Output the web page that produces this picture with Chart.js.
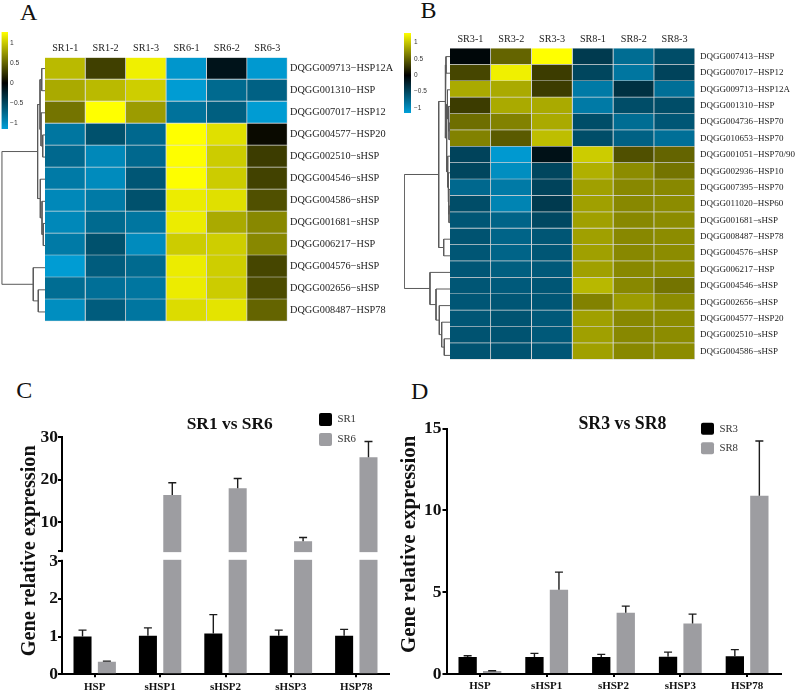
<!DOCTYPE html>
<html>
<head>
<meta charset="utf-8">
<style>
html,body{margin:0;padding:0;background:#fff;width:796px;height:692px;overflow:hidden}
canvas{position:absolute;display:block}
.tag{position:absolute;font:24px/1 "Liberation Serif",serif;color:#111}
</style>
<script src="https://cdn.jsdelivr.net/npm/chart.js@4/dist/chart.umd.js"></script>
</head>
<body>
<div class="tag" style="left:20px;top:0">A</div>
<div class="tag" style="left:420.6px;top:-2px">B</div>
<div class="tag" style="left:16.3px;top:378px">C</div>
<div class="tag" style="left:411px;top:379px">D</div>
<script>
// ---------- Heatmap A ----------
const samplesA = ['SR1-1','SR1-2','SR1-3','SR6-1','SR6-2','SR6-3'];
const genesA = ['DQGG009713−HSP12A','DQGG001310−HSP','DQGG007017−HSP12','DQGG004577−HSP20','DQGG002510−sHSP','DQGG004546−sHSP','DQGG004586−sHSP','DQGG001681−sHSP','DQGG006217−HSP','DQGG004576−sHSP','DQGG002656−sHSP','DQGG008487−HSP78'];
const valuesA = [
 [0.93,0.32,1.20,-1.08,-0.14,-1.10],
 [0.85,0.93,1.03,-1.12,-0.76,-0.70],
 [0.58,1.275,0.78,-0.82,-0.68,-1.12],
 [-0.85,-0.58,-0.75,1.275,1.12,0.05],
 [-0.75,-0.98,-0.75,1.27,1.02,0.30],
 [-0.88,-1.00,-0.62,1.27,1.02,0.33],
 [-0.98,-0.88,-0.58,1.18,1.12,0.40],
 [-0.98,-0.76,-0.85,1.18,0.85,0.68],
 [-0.88,-0.58,-1.00,1.02,1.03,0.68],
 [-1.12,-0.66,-0.76,1.18,1.03,0.35],
 [-0.78,-0.80,-0.85,1.18,1.02,0.38],
 [-1.02,-0.66,-0.85,1.10,1.14,0.50]
];
// cluster tree: [height, childA, childB], numbers are rows
const treeA = [1,
  [0.17,
    [0.115,[0.076,0,1],[0.092,2,[0.053,3,4]]],
    [0.108,5,[0.069,6,[0.039,7,8]]]],
  [0.271,9,[0.155,10,11]]];
// ---------- Heatmap B ----------
const samplesB = ['SR3-1','SR3-2','SR3-3','SR8-1','SR8-2','SR8-3'];
const genesB = ['DQGG007413−HSP','DQGG007017−HSP12','DQGG009713−HSP12A','DQGG001310−HSP','DQGG004736−HSP70','DQGG010653−HSP70','DQGG001051−HSP70/90','DQGG002936−HSP10','DQGG007395−HSP70','DQGG011020−HSP60','DQGG001681−sHSP','DQGG008487−HSP78','DQGG004576−sHSP','DQGG006217−HSP','DQGG004546−sHSP','DQGG002656−sHSP','DQGG004577−HSP20','DQGG002510−sHSP','DQGG004586−sHSP'];
const valuesB = [
 [-0.05,0.50,1.28,-0.42,-0.78,-0.55],
 [0.35,1.20,0.30,-0.50,-0.85,-0.48],
 [0.85,0.85,0.30,-0.88,-0.35,-0.80],
 [0.30,0.85,0.85,-0.88,-0.55,-0.55],
 [0.55,0.65,0.85,-0.55,-0.78,-0.62],
 [0.65,0.45,0.95,-0.55,-0.70,-0.80],
 [-0.48,-1.10,-0.12,1.02,0.40,0.50],
 [-0.50,-1.02,-0.50,0.88,0.70,0.58],
 [-0.75,-0.88,-0.48,0.80,0.68,0.68],
 [-0.55,-0.95,-0.42,0.80,0.68,0.70],
 [-0.62,-0.72,-0.52,0.80,0.68,0.70],
 [-0.60,-0.72,-0.62,0.80,0.68,0.70],
 [-0.62,-0.72,-0.62,0.80,0.68,0.70],
 [-0.62,-0.68,-0.64,0.80,0.68,0.70],
 [-0.62,-0.65,-0.62,0.92,0.68,0.58],
 [-0.62,-0.62,-0.62,0.65,0.78,0.70],
 [-0.62,-0.60,-0.64,0.80,0.68,0.70],
 [-0.60,-0.60,-0.64,0.80,0.68,0.70],
 [-0.60,-0.60,-0.62,0.80,0.68,0.70]
];
const treeB = [1,
  [0.247,
    [0.101,[0.088,0,1],
      [0.073,[0.055,2,[0.033,3,[0.022,4,5]]],
              [0.05,6,[0.04,7,[0.029,8,[0.022,9,10]]]]]],
    [0.138,11,12]],
  [0.438,13,[0.306,14,[0.234,15,[0.182,16,[0.125,17,18]]]]]];
const colorTicks = [-1,-0.5,0,0.5,1];
const colorRangeA = [-1.15,1.275];
const colorRangeB = [-1.15,1.29];
// ---------- Bars C ----------
const genesC = ['HSP','sHSP1','sHSP2','sHSP3','HSP78'];
const sr1 = [1.0,1.02,1.08,1.02,1.02];
const sr1Err = [1.17,1.23,1.58,1.17,1.19];
const sr6 = [0.33,16.4,18,5.5,25.3];
const sr6Err = [0.35,19.3,20.3,6.4,29];
const ticksC = [0,1,2,3,3.25,10,20,30];
// ---------- Bars D ----------
const genesD = ['HSP','sHSP1','sHSP2','sHSP3','HSP78'];
const sr3 = [1.04,1.04,1.04,1.06,1.08];
const sr3Err = [1.12,1.26,1.2,1.34,1.49];
const sr8 = [0.18,5.15,3.75,3.09,10.9];
const sr8Err = [0.2,6.23,4.15,3.66,14.25];
const ticksD = [0,5,10,15];

const SERIF = '"Liberation Serif", serif';
const SANS = '"Liberation Sans", sans-serif';
const GREY = '#9d9da1';

function heatColor(z){
  if(z>=0){const t=Math.min(1,z/1.275);return `rgb(${Math.round(255*t)},${Math.round(255*t)},0)`;}
  const t=Math.min(1,-z/1.15);return `rgb(0,${Math.round(160*t)},${Math.round(217*t)})`;
}

class PanelScale extends Chart.LinearScale{
  static id='panelLinear';
  static defaults=Chart.LinearScale.defaults;
  getPixelForValue(v){
    const b=this.options.brk;
    if(!b||v===null||v===undefined) return super.getPixelForValue(v);
    let d;
    if(v<=b.lo) d=v/b.lo*b.f1;
    else if(v<=b.hi) d=b.f1+(v-b.lo)/(b.hi-b.lo)*(b.f2-b.f1);
    else d=b.f2+(v-b.hi)/(this.max-b.hi)*(1-b.f2);
    return this.getPixelForDecimal(d);
  }
  drawTitle(){
    const c=this.ctx;c.save();c.translate(0,this.options.titleShift||0);super.drawTitle();c.restore();
  }
}
Chart.register(PanelScale);

function mk(left,top,w,h,cfg){
  const cv=document.createElement('canvas');
  cv.width=w;cv.height=h;
  cv.style.left=left+'px';cv.style.top=top+'px';cv.style.width=w+'px';cv.style.height=h+'px';
  document.body.appendChild(cv);
  cfg.options=Object.assign({responsive:false,animation:false,devicePixelRatio:1},cfg.options);
  return new Chart(cv,cfg);
}

function heatmap(left,top,w,h,samples,genes,values,pad,axisTop,axisRight,rowPad,rowFont){
  mk(left,top,w,h,{
    type:'bar',
    data:{labels:genes,datasets:samples.map((s,c)=>({
      label:s,
      data:genes.map(()=>1),
      backgroundColor:genes.map((_,r)=>heatColor(values[r][c])),
      borderColor:'#cfd2d4',
      borderWidth:{right:1,bottom:1,left:0,top:0},
      borderSkipped:false,
      barPercentage:1,categoryPercentage:1
    }))},
    options:{
      indexAxis:'y',
      layout:{padding:pad},
      plugins:{legend:{display:false},tooltip:{enabled:false}},
      scales:{
        x:{type:'linear',stacked:true,min:0,max:samples.length,position:'top',
           afterFit:s=>{s.height=axisTop;},
           afterBuildTicks:s=>{s.ticks=samples.map((_,i)=>({value:i+0.5}));},
           grid:{display:false,tickLength:0},border:{display:false},
           ticks:{autoSkip:false,maxRotation:0,padding:3,color:'#222',font:{family:SERIF,size:10.2},
                  callback:v=>samples[Math.floor(v)]}},
        y:{type:'category',stacked:true,position:'right',
           afterFit:s=>{s.width=axisRight;},
           grid:{display:false,tickLength:0},border:{display:false},
           ticks:{autoSkip:false,padding:rowPad,color:'#222',font:{family:SERIF,size:rowFont}}}
      }
    }
  });
}

function treeSegments(tree){
  const segs=[];
  const walk=n=>{
    if(typeof n==='number') return {h:0,y:n};
    const a=walk(n[1]),b=walk(n[2]);
    segs.push([{x:a.h,y:a.y},{x:n[0],y:a.y},{x:n[0],y:b.y},{x:b.h,y:b.y}]);
    return {h:n[0],y:(a.y+b.y)/2};
  };
  walk(tree);
  return segs;
}
function dendro(left,top,w,h,tree,n,pad){
  mk(left,top,w,h,{
    type:'scatter',
    data:{datasets:treeSegments(tree).map(d=>({data:d,showLine:true,pointRadius:0,borderColor:'#5a5a5a',borderWidth:1,fill:false,tension:0}))},
    options:{
      layout:{padding:pad},
      plugins:{legend:{display:false},tooltip:{enabled:false}},
      scales:{x:{display:false,type:'linear',min:0,max:1,reverse:true},
              y:{display:false,type:'linear',min:-0.5,max:n-0.5,reverse:true}}
    }
  });
}

function colorbar(left,top,w,h,range,pad,axisW,labelPad,size){
  mk(left,top,w,h,{
    type:'bar',
    data:{labels:['z'],datasets:[{
      data:[range],
      barPercentage:1,categoryPercentage:1,borderSkipped:false,
      backgroundColor:ctx=>{
        const a=ctx.chart.chartArea;if(!a) return '#000';
        const g=ctx.chart.ctx.createLinearGradient(0,a.bottom,0,a.top);
        const f=v=>(v-range[0])/(range[1]-range[0]);
        g.addColorStop(0,heatColor(range[0]));
        g.addColorStop(f(0),heatColor(0));
        g.addColorStop(1,heatColor(range[1]));
        return g;
      }
    }]},
    options:{
      layout:{padding:pad},
      plugins:{legend:{display:false},tooltip:{enabled:false}},
      scales:{
        x:{display:false},
        y:{type:'linear',position:'right',min:range[0],max:range[1],
           afterFit:s=>{s.width=axisW;},
           afterBuildTicks:s=>{s.ticks=colorTicks.map(v=>({value:v}));},
           grid:{display:false,tickLength:0},border:{display:false},
           ticks:{autoSkip:false,padding:labelPad,color:'#333',font:{family:SANS,size:size},
                  callback:v=>String(v).replace('-','−')}}
      }
    }
  });
}

const errPlugin={
  id:'errPlugin',
  afterDatasetsDraw(chart){
    const c=chart.ctx,y=chart.scales.y;
    chart.data.datasets.forEach((ds,di)=>{
      chart.getDatasetMeta(di).data.forEach((el,i)=>{
        const top=y.getPixelForValue(ds.errTop[i]);
        c.save();c.strokeStyle='#1c1c1c';c.lineWidth=1.4;c.beginPath();
        c.moveTo(el.x,el.y);c.lineTo(el.x,top);
        c.moveTo(el.x-4,top);c.lineTo(el.x+4,top);c.stroke();c.restore();
      });
    });
  },
  afterDraw(chart){
    const y=chart.scales.y,b=y.options.brk;
    if(!b) return;
    const c=chart.ctx,t=y.getPixelForValue(b.hi)+1.2,bt=y.getPixelForValue(b.lo)-1.2;
    c.save();c.fillStyle='#fff';c.fillRect(y.right-3,t,chart.width-y.right+3,bt-t);c.restore();
  }
};
const placePlugin={
  id:'placePlugin',
  afterLayout(chart,_a,o){
    const l=chart.legend,t=chart.titleBlock,p=chart.options.plugins.legend.labels.padding;
    l.left=o.legendX-p;l.right=o.legendX+60;l.top=o.legendY-p;l.bottom=o.legendY+50;
    t.left=o.titleX-150;t.right=o.titleX+150;t.top=o.titleY-t.height/2;t.bottom=t.top+t.height;
  }
};

function barsPanel(left,top,w,h,o){
  mk(left,top,w,h,{
    type:'bar',
    plugins:[errPlugin,placePlugin],
    data:{labels:o.labels,datasets:o.series.map((s,i)=>({
      label:s.name,data:s.values,errTop:s.err,
      backgroundColor:i?GREY:'#000',borderWidth:0,
      categoryPercentage:o.cp,barPercentage:o.bp
    }))},
    options:{
      layout:{padding:o.pad},
      plugins:{
        tooltip:{enabled:false},
        title:{display:true,text:o.title,color:'#111',padding:0,font:{family:SERIF,size:o.titleSize,weight:'bold'}},
        legend:{position:'chartArea',align:'start',
          labels:{boxWidth:13,boxHeight:o.box,padding:o.legPad,color:'#333',useBorderRadius:true,borderRadius:2,
                  font:{family:SERIF,size:10.8}}},
        placePlugin:o.place
      },
      scales:{
        x:{type:'category',
           afterFit:s=>{s.height=o.axisBottom;},
           grid:{drawOnChartArea:false,offset:false,color:'#000',lineWidth:2,tickLength:3},
           border:{color:'#000',width:2},
           ticks:{autoSkip:false,maxRotation:0,padding:3,color:'#111',font:{family:SERIF,size:11,weight:'bold'}}},
        y:{type:'panelLinear',min:0,max:o.max,brk:o.brk,titleShift:o.titleShift,
           afterFit:s=>{s.width=o.axisLeft;},
           afterBuildTicks:s=>{s.ticks=o.ticks.map(v=>({value:v}));},
           grid:{drawOnChartArea:false,color:'#000',lineWidth:2,tickLength:4},
           border:{color:'#000',width:2},
           title:{display:true,text:'Gene relative expression',color:'#111',padding:0,
                  font:{family:SERIF,size:o.axisTitleSize,weight:'bold'}},
           ticks:{autoSkip:false,padding:o.tickPad,color:'#111',font:{family:SERIF,size:17.5,weight:'bold'},
                  callback:v=>Number.isInteger(v)?String(v):''}}
      }
    }
  });
}

// Panel A
heatmap(45,30,351,300,samplesA,genesA,valuesA,{bottom:7},27.5,108.5,2.5,10.3);
dendro(0,50,45,280,treeA,genesA.length,{left:1.7,top:7.5,bottom:7});
colorbar(0,25,30,110,colorRangeA,{left:1.5,top:7,bottom:6},22,2,6.7);
// Panel B
heatmap(450,20,346,350,samplesB,genesB,valuesB,{bottom:6.3},28.3,101,5,9);
dendro(400,40,50,330,treeB,genesB.length,{left:4.3,top:8.3,bottom:6.3});
colorbar(400,25,40,95,colorRangeB,{left:4,top:8,bottom:7},29,3,6.5);
// Panel C
barsPanel(0,375,396,317,{
  labels:genesC,title:'SR1 vs SR6',titleSize:17.4,
  series:[{name:'SR1',values:sr1,err:sr1Err},{name:'SR6',values:sr6,err:sr6Err}],
  cp:0.745,bp:0.74,max:30,ticks:ticksC,brk:{lo:3,hi:3.25,f1:0.478,f2:0.5205},
  pad:{left:17.8,right:7,top:41.4},axisLeft:44.2,axisBottom:17.7,tickPad:0,axisTitleSize:20.3,titleShift:-5,
  box:13,legPad:7,
  place:{legendX:319,legendY:38,titleX:229.7,titleY:50}
});
// Panel D
barsPanel(390,375,406,317,{
  labels:genesD,title:'SR3 vs SR8',titleSize:17.8,
  series:[{name:'SR3',values:sr3,err:sr3Err},{name:'SR8',values:sr8,err:sr8Err}],
  cp:0.734,bp:0.747,max:15,ticks:ticksD,brk:null,
  pad:{left:7.5,right:15.5,top:32.3},axisLeft:49,axisBottom:18,tickPad:1,axisTitleSize:20.9,titleShift:-7,
  box:12,legPad:7.6,
  place:{legendX:311,legendY:47.7,titleX:232.4,titleY:49}
});
</script>
</body>
</html>
